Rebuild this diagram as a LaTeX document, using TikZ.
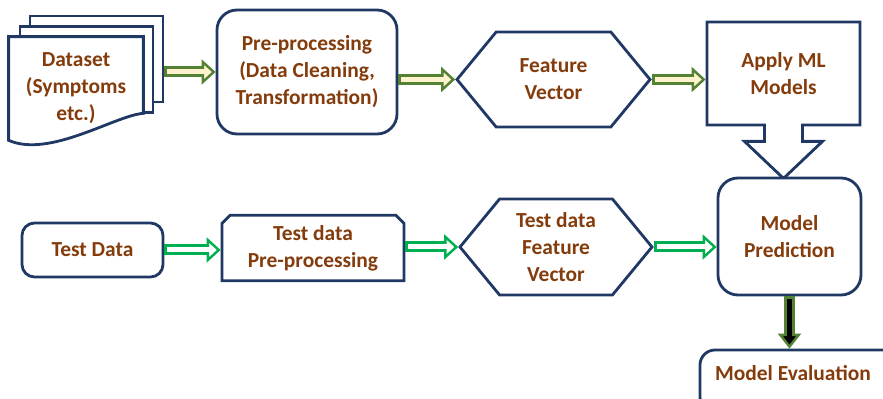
\documentclass[tikz,border=0pt]{standalone}
\usepackage{fontspec}
\setmainfont{Carlito}
\usetikzlibrary{shapes.geometric, shapes.symbols, shapes.misc, shapes.arrows, arrows.meta}
\definecolor{navy}{RGB}{32,56,100}
\definecolor{rust}{RGB}{132,60,12}
\definecolor{olive}{RGB}{84,130,53}
\definecolor{cream}{RGB}{255,242,204}
\definecolor{brightgreen}{RGB}{0,176,80}
\pgfdeclarelayer{background}
\pgfsetlayers{background,main}
\tikzstyle{txt} = [font=\fontsize{12.2}{15.4}\selectfont\bfseries, text=rust, align=center]
\tikzstyle{roundbox} = [rectangle, rounded corners=0.4cm, draw=navy, line width=1.6pt, fill=white, txt]
\tikzstyle{hexbox} = [signal, signal to=west and east, signal pointer angle=101, draw=navy, line width=1.6pt, fill=white, inner sep=0pt, txt]
\tikzstyle{snipbox} = [chamfered rectangle, chamfered rectangle corners={north west, north east}, chamfered rectangle xsep=0.08cm, chamfered rectangle ysep=0.08cm, draw=navy, line width=1.6pt, fill=white, txt]
\tikzstyle{callbox} = [arrow box, arrow box arrows={south:1.04cm}, arrow box shaft width=0.76cm, arrow box head extend=0.4cm, arrow box head indent=0cm, arrow box tip angle=93, draw=navy, line width=1.6pt, fill=white, txt]
\tikzstyle{pagebox} = [rectangle, draw=navy, line width=1.6pt, fill=white, minimum width=2.66cm, minimum height=1.72cm]
\tikzstyle{toparrow} = [line width=0.22cm, draw=olive, -{Triangle[length=0.28cm, width=0.5cm, fill=cream, line width=1.4pt]}, postaction={draw=cream, line width=0.1cm, -, shorten >=0.14cm, shorten <=0.06cm}]
\tikzstyle{lowarrow} = [line width=0.22cm, draw=brightgreen, -{Triangle[length=0.28cm, width=0.5cm, fill=white, line width=1.4pt]}, postaction={draw=white, line width=0.1cm, -, shorten >=0.14cm, shorten <=0.06cm}]
\tikzstyle{downarrow} = [line width=0.22cm, draw=olive, -{Triangle[length=0.3cm, width=0.46cm, fill=black, line width=1.4pt]}, postaction={draw=black, line width=0.1cm, -, shorten >=0.14cm, shorten <=0.06cm}]

\begin{document}
\begin{tikzpicture}
    \useasboundingbox (0,0) rectangle (17.66,-7.98);
    \node (dataset) [txt, minimum width=2.68cm, minimum height=2.06cm] at (1.52,-1.77) {Dataset\\(Symptoms\\etc.)};
    \begin{pgfonlayer}{background}
        \node (page3) [pagebox] at (1.93,-1.18) {};
        \node (page2) [pagebox] at (1.73,-1.39) {};
        \draw [draw=navy, line width=1.6pt, fill=white] (dataset.north west) -- (dataset.north east)
        -- ([yshift=0.54cm]dataset.south east) .. controls +(-0.56,-0.04) and +(0.82,-0.36) .. (dataset.south west) -- cycle;
    \end{pgfonlayer}
    \node (prep) [roundbox, minimum width=3.6cm, minimum height=2.48cm] at (6.14,-1.44) {Pre-processing\\(Data Cleaning,\\Transformation)};
    \node (feat) [hexbox, minimum width=3.86cm, minimum height=1.9cm] at (11.07,-1.59) {Feature\\Vector};
    \node (apply) [callbox, minimum width=3.06cm, minimum height=2.06cm] at (15.67,-1.47) {Apply ML\\Models};
    \node (test) [roundbox, rounded corners=0.25cm, minimum width=2.82cm, minimum height=1.08cm] at (1.85,-5.0) {Test Data};
    \node (tprep) [snipbox, minimum width=3.64cm, minimum height=1.2cm] at (6.26,-4.96) {Test data\\Pre-processing};
    \node (tfeat) [hexbox, minimum width=3.84cm, minimum height=1.92cm] at (11.12,-4.94) {Test data\\Feature\\Vector};
    \node (pred) [roundbox, minimum width=2.86cm, minimum height=2.34cm] at (15.79,-4.73) {Model\\Prediction};
    \node (eval) [roundbox, rounded corners=0.3cm, minimum width=4.6cm, minimum height=1.24cm, text depth=0.32cm] at (16.3,-7.62) {Model Evaluation\hspace*{0.88cm}};

    \draw [toparrow] (page3.east |- prep.west) -- (prep.west);
    \draw [toparrow] (prep.east |- feat.west) -- (feat.west);
    \draw [toparrow] (feat.east) -- (feat.east -| apply.west);
    \draw [lowarrow] (test.east) -- (test.east -| tprep.west);
    \draw [lowarrow] (tprep.east |- tfeat.west) -- (tfeat.west);
    \draw [lowarrow] (tfeat.east) -- (tfeat.east -| pred.west);
    \draw [downarrow] (pred.south) -- (pred.south |- eval.north);
\end{tikzpicture}
\end{document}
